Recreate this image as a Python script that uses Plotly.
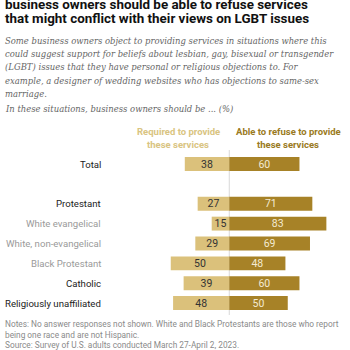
import plotly.graph_objects as go

categories = ["Total", " ", "Protestant", "White evangelical", "White, non-evangelical",
              "Black Protestant", "Catholic", "Religiously unaffiliated"]
required = [38, None, 27, 15, 29, 50, 39, 48]
able = [60, None, 71, 83, 69, 48, 60, 50]
label_colors = ["#222222", "#222222", "#222222", "#9a9a9a", "#9a9a9a", "#9a9a9a", "#222222", "#222222"]

LIGHT = "#dbc17b"
DARK = "#a78227"

W, H = 350, 350
def py(p):
    return 1 - p / H

fig = go.Figure()
fig.add_trace(go.Bar(
    y=categories, x=[-v if v is not None else None for v in required], orientation="h",
    marker=dict(color=LIGHT, line=dict(width=0)), width=0.7,
    text=[str(v) if v is not None else "" for v in required], textposition="inside",
    insidetextanchor="middle", textangle=0, constraintext="none",
    textfont=dict(family="Roboto, Arial, sans-serif", size=10.5, color="#333333"),
    hoverinfo="skip"))
fig.add_trace(go.Bar(
    y=categories, x=able, orientation="h",
    marker=dict(color=DARK, line=dict(width=0)), width=0.7,
    text=[str(v) if v is not None else "" for v in able], textposition="inside",
    insidetextanchor="middle", textangle=0, constraintext="none",
    textfont=dict(family="Roboto, Arial, sans-serif", size=10.5, color="#f3ead2"),
    hoverinfo="skip"))

fig.update_layout(
    width=W, height=H, margin=dict(l=0, r=0, t=0, b=0),
    paper_bgcolor="white", plot_bgcolor="white",
    barmode="relative", showlegend=False, bargap=0.3,
    xaxis=dict(domain=[0.3, 1.0], range=[-106.2, 103.2], visible=False, fixedrange=True),
    yaxis=dict(domain=[py(313), py(154.1)], categoryorder="array", categoryarray=categories,
               autorange="reversed", visible=False, fixedrange=True),
)

fig.add_shape(type="line", xref="x", yref="paper", x0=0, x1=0, y0=py(315), y1=py(150),
              line=dict(color="#d8d8d8", width=1), layer="below")

# row labels
for c, col in zip(categories, label_colors):
    if c.strip():
        fig.add_annotation(text=c, xref="paper", yref="y", x=103 / W, y=c, xanchor="right",
                           yanchor="middle", showarrow=False,
                           font=dict(family="Roboto, Arial, sans-serif", size=9.6, color=col))

# column headers
hdr = dict(family="Roboto, Arial, sans-serif", size=9.5, weight="bold")
for i, line in enumerate(["Required to provide", "these services"]):
    fig.add_annotation(text=line, xref="paper", yref="paper", x=178 / W, y=py(131.5 + 12.5 * i),
                       xanchor="center", yanchor="middle", showarrow=False,
                       font=dict(hdr, color="#d9c481"))
for i, line in enumerate(["Able to refuse to provide", "these services"]):
    fig.add_annotation(text=line, xref="paper", yref="paper", x=288 / W, y=py(131.5 + 12.5 * i),
                       xanchor="center", yanchor="middle", showarrow=False,
                       font=dict(hdr, color="#9a7a22"))

# title
title_lines = ["business owners should be able to refuse services",
               "that might conflict with their views on LGBT issues"]
for i, line in enumerate(title_lines):
    fig.add_annotation(text=line, xref="paper", yref="paper", x=3 / W, y=py(4 + 15 * i),
                       xanchor="left", yanchor="middle", showarrow=False,
                       font=dict(family="Roboto, Arial, sans-serif", size=13.4, weight="bold", color="#111111"))

sub_lines = ["Some business owners object to providing services in situations where this",
             "could suggest support for beliefs about lesbian, gay, bisexual or transgender",
             "(LGBT) issues that they have personal or religious objections to. For",
             "example, a designer of wedding websites who has objections to same-sex",
             "marriage."]
sub_font = dict(family="DejaVu Serif, serif", size=8.45, style="italic", color="#666666")
for i, line in enumerate(sub_lines):
    fig.add_annotation(text=line, xref="paper", yref="paper", x=3 / W, y=py(41 + 13.2 * i),
                       xanchor="left", yanchor="middle", showarrow=False, font=sub_font)
fig.add_annotation(text="In these situations, business owners should be ... (%)", xref="paper", yref="paper",
                   x=3 / W, y=py(108.5), xanchor="left", yanchor="middle", showarrow=False, font=sub_font)

notes = ["Notes: No answer responses not shown. White and Black Protestants are those who report",
         "being one race and are not Hispanic.",
         "Source: Survey of U.S. adults conducted March 27-April 2, 2023."]
for i, line in enumerate(notes):
    fig.add_annotation(text=line, xref="paper", yref="paper", x=3 / W, y=py(324 + 10.5 * i),
                       xanchor="left", yanchor="middle", showarrow=False,
                       font=dict(family="Roboto, Arial, sans-serif", size=8.3, color="#8a8a8a"))

fig.write_html("out.html")
